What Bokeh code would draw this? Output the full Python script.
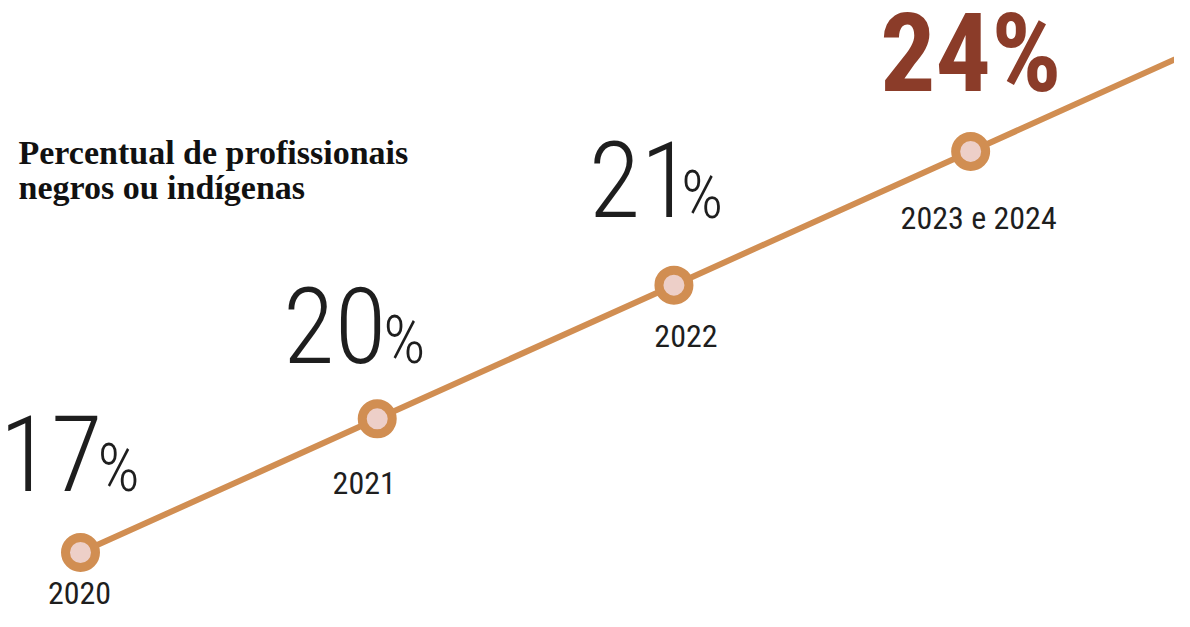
from bokeh.plotting import figure
from bokeh.models import ColumnDataSource, Range1d, Label
from bokeh.core.properties import value
from bokeh.embed import file_html
from bokeh.resources import INLINE

# ---- data ----
years = ["2020", "2021", "2022", "2023 e 2024"]
values = [17, 20, 21, 24]
title_lines = ["Percentual de profissionais", "negros ou indígenas"]

# ---- style ----
LINE = "#D18E52"
FILL = "#EDCFC8"
TEXT = "#1E1E1E"
HIGHLIGHT = "#8B3C29"
NUM_FONT = "Roboto Condensed Light"
YEAR_FONT = "Roboto Condensed"
BIG_FONT = "Roboto Condensed"
TITLE_FONT = "Liberation Serif"

# label nudges relative to each point (screen px)
num_dx, num_dy = [22, 9, 18], [-100, -94, -106]
pct_dx, pct_dy = [17, 6, 7], [-84, -78, -90]
year_dx, year_dy = [-1, -13, 12, 8], [40, 64, 51, 67]

idx = list(range(len(years)))  # evenly spaced steps along the rising line
step_y = idx  # stylised: each step rises by the same amount

W, H = 1174, 611
p = figure(width=W, height=H, output_backend="svg", toolbar_location=None,
           min_border=0, x_axis_type=None, y_axis_type=None,
           x_range=Range1d(-0.2696, 3.687), y_range=Range1d(-0.441, 4.129))
p.outline_line_color = None
p.grid.visible = False
p.background_fill_color = "white"
p.border_fill_color = "white"

# line: through the points and continuing past the last one to the edge
lx = idx + [idx[-1] + 1]
ly = step_y + [step_y[-1] + 1]
p.line(lx, ly, line_color=LINE, line_width=6)

n = len(values) - 1
src = ColumnDataSource(dict(
    x=idx[:n], y=step_y[:n],
    num=[str(v) for v in values[:n]],
    pct=["%"] * n,
    ndx=num_dx, ndy=num_dy, pdx=pct_dx, pdy=pct_dy,
))
src_all = ColumnDataSource(dict(x=idx, y=step_y, year=years,
                                ydx=year_dx, ydy=year_dy))

p.scatter("x", "y", source=src_all, size=30, fill_color=FILL,
          line_color=LINE, line_width=9)

# number labels (regular ones)
p.text("x", "y", text="num", source=src, x_offset="ndx", y_offset="ndy",
       text_font=value(NUM_FONT), text_font_size="106px", text_color=TEXT,
       text_align="right", text_baseline="alphabetic")
p.text("x", "y", text="pct", source=src, x_offset="pdx", y_offset="pdy",
       text_font=value(NUM_FONT), text_font_size="66px", text_color=TEXT,
       text_align="left", text_baseline="alphabetic")

# highlighted last value
src_last = ColumnDataSource(dict(x=[idx[-1]], y=[step_y[-1]],
                                 t=[f"{values[-1]}%"]))
p.text("x", "y", text="t", source=src_last, x_offset=0, y_offset=-98,
       text_font=value(BIG_FONT), text_font_size="110px",
       text_font_style="bold", text_color=HIGHLIGHT,
       text_align="center", text_baseline="alphabetic")

# year labels
p.text("x", "y", text="year", source=src_all, x_offset="ydx", y_offset="ydy",
       text_font=value(YEAR_FONT), text_font_size="32px", text_color=TEXT,
       text_align="center", text_baseline="alphabetic")

# title
for i, line in enumerate(title_lines):
    p.add_layout(Label(x=18, y=459 - i * 35, x_units="screen", y_units="screen",
                       text=line, text_font=TITLE_FONT, text_font_size="34px",
                       text_font_style="bold", text_color="#111111",
                       text_baseline="alphabetic"))

open("out.html", "w").write(file_html(p, INLINE))
